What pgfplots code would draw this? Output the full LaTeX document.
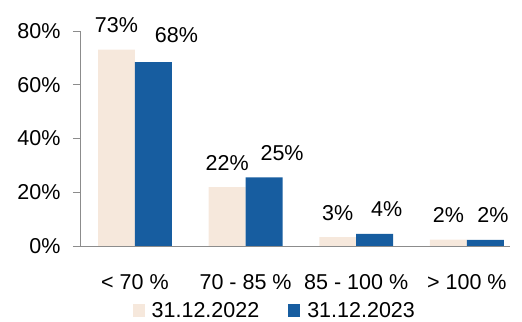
\documentclass[border=0pt]{standalone}
\usepackage{pgfplots}
\pgfplotsset{compat=1.18}
\usepackage{pgfplotstable}
\usepackage{fontspec}
\setmainfont{Liberation Sans}
\definecolor{lightbar}{HTML}{F6E8DC}
\definecolor{darkbar}{HTML}{175DA0}
\definecolor{axgray}{HTML}{8C8C8C}
\pgfplotstableread{
x y lab dx dy
0 73.1 73 0 0
1 21.9 22 0 0
2 3.3 3 0 0
3 2.4 2 0 0
}\lighttab
\pgfplotstableread{
x y lab dx dy
0 68.4 68 23 3
1 25.5 25 18 0
2 4.5 4 12 0
3 2.3 2 7.5 0
}\darktab
\begin{document}
\begin{tikzpicture}[font=\fontsize{21.5bp}{25bp}\selectfont]
\begin{axis}[
  scale only axis,
  width=430bp, height=215bp,
  xmin=-0.497, xmax=3.39,
  ymin=0, ymax=80,
  ybar=0pt,
  bar width=0.334,
  axis x line=bottom, axis y line=left,
  axis line style={axgray, line width=0.9bp, -},
  ytick={0,20,40,60,80},
  yticklabel={\pgfmathprintnumber{\tick}\%},
  y tick style={axgray, line width=0.9bp},
  tick align=outside,
  major tick length=7bp,
  xtick={0,1,2,3},
  xticklabels={{< 70 \%},{70 - 85 \%},{85 - 100 \%},{> 100 \%}},
  x tick style={draw=none},
  /pgf/number format/assume math mode=true,
  y tick label style={xshift=-9bp},
  x tick label style={yshift=-18bp},
  nodes near coords={\pgfmathprintnumber{\pgfplotspointmeta}\%},
  point meta=explicit,
  visualization depends on={\thisrow{dx} \as \dx},
  visualization depends on={\thisrow{dy} \as \dy},
  nodes near coords style={anchor=base, yshift=17bp+\dy bp, xshift=\dx bp, text=black},
  legend columns=2,
  legend style={draw=none, fill=none, at={(0.453,-0.302)}, anchor=center,
    inner sep=0pt, nodes={inner ysep=1bp},
    /tikz/every even column/.append style={column sep=27bp},
    /tikz/every odd column/.append style={column sep=5bp},
    font=\fontsize{21.5bp}{25bp}\selectfont},
  legend image code/.code={\fill[#1] (0bp,-6.5bp) rectangle (12bp,6.5bp);},
]
\addplot[fill=lightbar, draw=none] table[x=x, y=y, meta=lab] {\lighttab};
\addplot[fill=darkbar, draw=none] table[x=x, y=y, meta=lab] {\darktab};
\legend{31.12.2022, 31.12.2023}
\path (rel axis cs:0,0) ++(-80bp,-76bp) coordinate (BL);
\path (rel axis cs:1,1) ++(12bp,31bp) coordinate (TR);
\end{axis}
\pgfresetboundingbox
\path[use as bounding box] (BL) rectangle (TR);
\end{tikzpicture}
\end{document}
